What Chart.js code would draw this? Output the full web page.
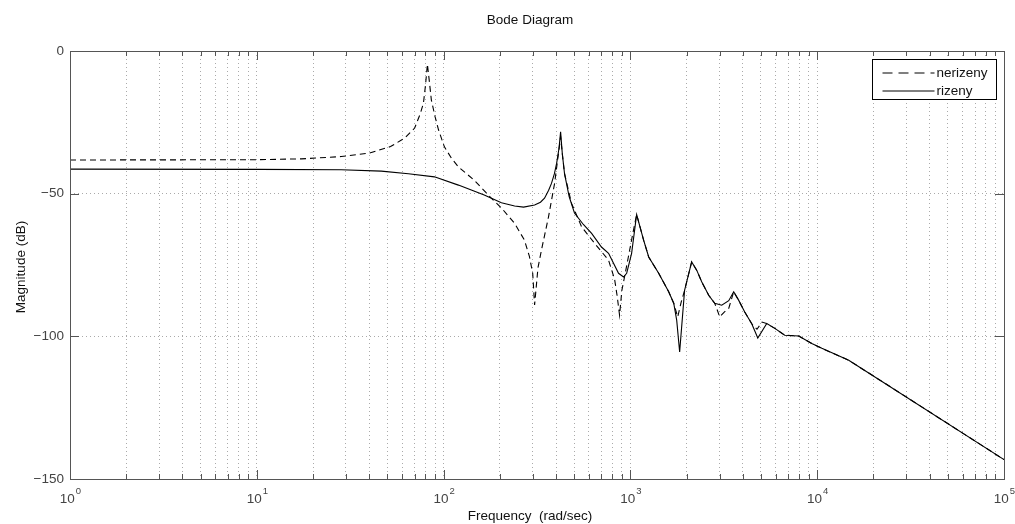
<!DOCTYPE html>
<html>
<head>
<meta charset="utf-8">
<script src="https://cdn.jsdelivr.net/npm/chart.js@4/dist/chart.umd.min.js"></script>
<style>
  html, body { margin: 0; padding: 0; background: #fff; }
  canvas { display: block; }
</style>
</head>
<body>
<canvas id="bode" width="1015" height="524"></canvas>
<script>
// Data (frequency in rad/sec, magnitude in dB)
const freqNerizeny = [1, 10, 17.3, 28.3, 40, 52, 62, 70, 75, 78, 80, 81.9, 84, 86, 90, 94, 101, 110, 120, 146, 180, 204, 240, 271, 288, 300, 307, 320, 334, 364, 393, 410, 423, 432, 444, 484, 548, 643, 764, 823, 850, 875, 900, 930, 975, 1030, 1080, 1177, 1253, 1417, 1603, 1706, 1792, 1870, 1950, 2128, 2264, 2408, 2625, 2827, 2897, 3006, 3180, 3360, 3573, 3802, 4093, 4463, 4760, 5070, 5350, 5933, 6700, 7965, 9354, 10590, 14750, 21380, 100000];
const magNerizeny  = [-38.2, -38.1, -37.8, -37.0, -35.8, -33.5, -30.5, -27, -22, -18.3, -12, -4.6, -11, -17.2, -23, -27.7, -33.6, -37.5, -40.6, -45.3, -51.6, -55, -60.4, -66.3, -72, -78, -89, -76, -69.8, -58.3, -46.3, -37, -30, -36, -43, -53.4, -61.6, -67.4, -73.3, -80, -86, -92.6, -83.9, -79.2, -72.2, -64, -57.3, -66.3, -72.2, -77.9, -84.4, -88.4, -93.2, -88, -83.9, -73.9, -76.8, -80.9, -85.6, -88.4, -90.2, -93.2, -91.5, -90.2, -84.4, -87.4, -91.5, -95.6, -97.5, -95.0, -95.5, -97.2, -99.6, -99.9, -102.5, -104.2, -108.4, -115.1, -143.2];

const freqRizeny = [1, 10, 28.3, 46.4, 64.8, 89.3, 120, 165, 204, 240, 268, 307, 330, 347, 365, 378, 392, 403, 415, 423, 432, 444, 470, 502, 560, 620, 700, 764, 864, 919, 955, 1015, 1080, 1177, 1253, 1417, 1603, 1706, 1770, 1835, 1950, 2128, 2264, 2408, 2625, 2827, 3083, 3360, 3573, 3802, 4093, 4463, 4808, 5370, 5933, 6700, 7965, 9354, 10590, 14750, 21380, 100000];
const magRizeny  = [-41.4, -41.5, -41.6, -42.1, -43, -44.1, -47, -50.5, -53.2, -54.3, -54.7, -54, -53, -51.6, -48.8, -46.4, -43, -39.3, -34, -28.3, -36, -43, -51, -56.8, -60.8, -63.9, -68.7, -70.9, -77.9, -79.2, -77.9, -70.9, -57.3, -66.3, -72.2, -77.9, -84.4, -88.4, -94.4, -105.5, -83.9, -73.9, -76.8, -80.9, -85.6, -88.4, -89.1, -87.5, -84.4, -87.4, -91.5, -95.6, -100.6, -95.5, -97.2, -99.6, -99.9, -102.5, -104.2, -108.4, -115.1, -143.2];

const seriesLabels = ["nerizeny", "rizeny"];
const decadeExponents = [0, 1, 2, 3, 4, 5];
const magTicks = [0, -50, -100, -150];

const FONT = '"Liberation Sans", Arial, Helvetica, sans-serif';
const FS = "13.5px ";

function toPoints(xs, ys) {
  return xs.map((x, i) => ({ x: x, y: ys[i] }));
}

// inward tick marks, frame, texts and the boxed legend
const bodeDecor = {
  id: "bodeDecor",
  afterDatasetsDraw(chart) {
    const ctx = chart.ctx;
    const a = chart.chartArea;
    const xs = chart.scales.x;
    const ys = chart.scales.y;

    ctx.save();
    ctx.strokeStyle = "#555";
    ctx.lineWidth = 1;

    // frame
    ctx.strokeRect(Math.round(a.left) + 0.5, Math.round(a.top) + 0.5,
      Math.round(a.right) - Math.round(a.left), Math.round(a.bottom) - Math.round(a.top));

    // x ticks, top and bottom
    ctx.beginPath();
    xs.ticks.forEach((t) => {
      const px = Math.round(xs.getPixelForValue(t.value)) + 0.5;
      const len = t.major ? 9 : 5;
      ctx.moveTo(px, a.bottom);
      ctx.lineTo(px, a.bottom - len);
      ctx.moveTo(px, a.top);
      ctx.lineTo(px, a.top + len);
    });
    // y ticks, left and right
    magTicks.forEach((v) => {
      const py = Math.round(ys.getPixelForValue(v)) + 0.5;
      ctx.moveTo(a.left, py);
      ctx.lineTo(a.left + 9, py);
      ctx.moveTo(a.right, py);
      ctx.lineTo(a.right - 9, py);
    });
    ctx.stroke();

    // x tick labels 10^n
    ctx.fillStyle = "#444";
    ctx.textBaseline = "alphabetic";
    ctx.textAlign = "left";
    decadeExponents.forEach((e) => {
      const px = xs.getPixelForValue(Math.pow(10, e));
      ctx.font = FS + FONT;
      const w1 = ctx.measureText("10").width;
      ctx.font = "9.5px " + FONT;
      const w2 = ctx.measureText(String(e)).width;
      const x0 = px - (w1 + w2) / 2;
      ctx.font = FS + FONT;
      ctx.fillText("10", x0, a.bottom + 24);
      ctx.font = "9.5px " + FONT;
      ctx.fillText(String(e), x0 + w1 + 1, a.bottom + 15);
    });

    // title and axis labels
    const cx = (a.left + a.right) / 2 - 7;
    ctx.fillStyle = "#111";
    ctx.font = FS + FONT;
    ctx.textAlign = "center";
    ctx.fillText("Bode Diagram", cx, 24);
    ctx.fillText("Frequency  (rad/sec)", cx, a.bottom + 41);
    ctx.save();
    ctx.translate(25, (a.top + a.bottom) / 2 + 2);
    ctx.rotate(-Math.PI / 2);
    ctx.fillText("Magnitude (dB)", 0, 0);
    ctx.restore();

    // legend box
    const bw = 124, bh = 40;
    const bx = Math.round(a.right - 8.5 - bw) + 0.5;
    const by = Math.round(a.top + 8) + 0.5;
    ctx.fillStyle = "#fff";
    ctx.fillRect(bx, by, bw, bh);
    ctx.strokeStyle = "#000";
    ctx.strokeRect(bx, by, bw, bh);
    chart.data.datasets.forEach((ds, i) => {
      const ly = by + 13.5 + i * 18;
      ctx.beginPath();
      ctx.setLineDash(ds.borderDash ? [10, 6] : []);
      ctx.strokeStyle = "#000";
      ctx.lineWidth = 1.1;
      ctx.moveTo(bx + 10, ly);
      ctx.lineTo(bx + 62, ly);
      ctx.stroke();
      ctx.setLineDash([]);
      ctx.fillStyle = "#111";
      ctx.textAlign = "left";
      ctx.textBaseline = "middle";
      ctx.font = FS + FONT;
      ctx.fillText(ds.label, bx + 64, ly);
    });
    ctx.restore();
  },
};

const config = {
  type: "line",
  data: {
    datasets: [
      {
        label: seriesLabels[0],
        data: toPoints(freqNerizeny, magNerizeny),
        borderColor: "#000",
        borderWidth: 1.1,
        borderDash: [6, 4],
        pointRadius: 0,
        tension: 0,
        fill: false,
      },
      {
        label: seriesLabels[1],
        data: toPoints(freqRizeny, magRizeny),
        borderColor: "#000",
        borderWidth: 1.1,
        pointRadius: 0,
        tension: 0,
        fill: false,
      },
    ],
  },
  options: {
    responsive: false,
    animation: false,
    events: [],
    layout: { padding: { top: 51, right: 11, left: 0, bottom: 0 } },
    plugins: {
      legend: { display: false },
      title: { display: false },
      tooltip: { enabled: false },
    },
    scales: {
      x: {
        type: "logarithmic",
        min: 1,
        max: 100000,
        afterBuildTicks: (scale) => {
          const ticks = [];
          decadeExponents.forEach((e) => {
            for (let m = 1; m <= 9; m++) {
              const v = m * Math.pow(10, e);
              if (v <= 100000) ticks.push({ value: v, major: m === 1 });
            }
          });
          scale.ticks = ticks;
        },
        afterFit: (scale) => { scale.height = 45; },
        ticks: { display: false, autoSkip: false },
        border: { display: false, dash: [1, 3] },
        grid: { color: "#aaa", lineWidth: 1, drawTicks: false },
      },
      y: {
        min: -150,
        max: 0,
        afterBuildTicks: (scale) => {
          scale.ticks = magTicks.map((v) => ({ value: v }));
        },
        afterFit: (scale) => { scale.width = 70; },
        ticks: {
          padding: 6,
          color: "#444",
          font: { family: FONT, size: 13.5 },
          callback: (v) => String(v).replace("-", "\u2212"),
        },
        border: { display: false, dash: [1, 3] },
        grid: { color: "#aaa", lineWidth: 1, drawTicks: false },
      },
    },
  },
  plugins: [bodeDecor],
};

document.addEventListener("DOMContentLoaded", () => {
  new Chart(document.getElementById("bode"), config);
});
</script>
</body>
</html>
